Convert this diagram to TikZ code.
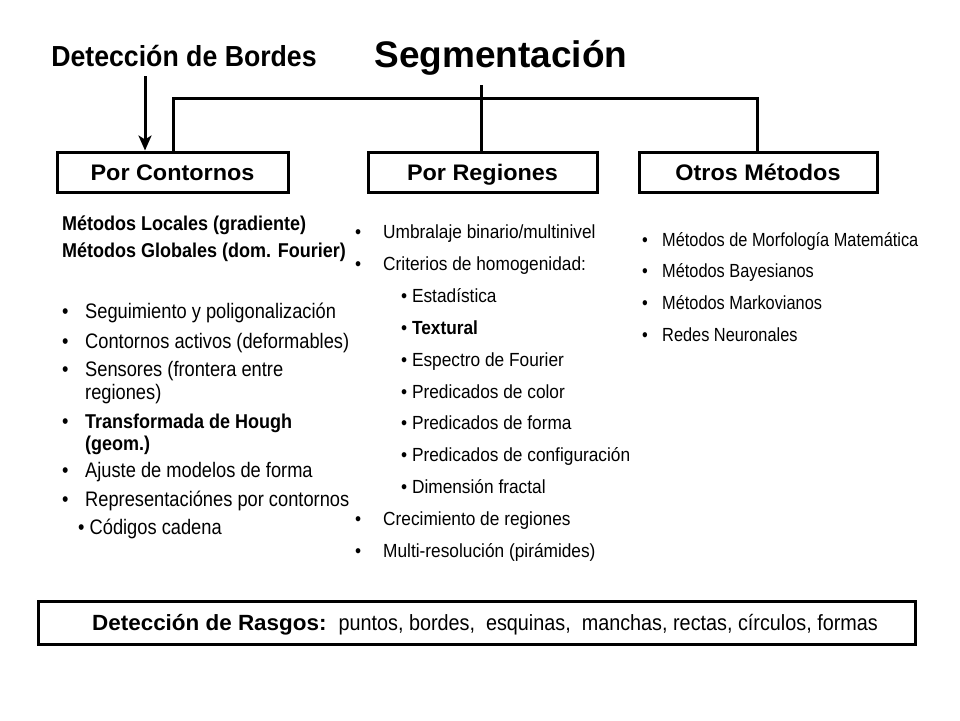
\documentclass[tikz,border=0pt]{standalone}
\usepackage{fontspec}
\setmainfont{Liberation Sans}
\newfontfamily\fTitle{Liberation Sans}
\newfontfamily\fDB[FakeStretch=0.92]{Liberation Sans}
\newfontfamily\fBox[FakeStretch=1.04]{Liberation Sans}
\newfontfamily\fLeftB[FakeStretch=0.9]{Liberation Sans}
\newfontfamily\fLeft[FakeStretch=0.87]{Liberation Sans}
\newfontfamily\fMid[FakeStretch=0.91]{Liberation Sans}
\newfontfamily\fRight[FakeStretch=0.86]{Liberation Sans}
\newfontfamily\fBot[FakeStretch=0.9]{Liberation Sans}
\newfontfamily\fBotB[FakeStretch=1.02]{Liberation Sans}
\usetikzlibrary{arrows.meta}
\tikzset{
  boxn/.style={draw, line width=3pt, inner sep=0pt, text height=16pt, text depth=0pt,
    font=\fBox\bfseries\fontsize{22.5pt}{26pt}\selectfont},
  conn/.style={line width=3pt},
  lhead/.style={anchor=base west, inner sep=0pt, font=\fLeftB\bfseries\fontsize{20pt}{24pt}\selectfont},
  ltxt/.style={anchor=base west, inner sep=0pt, font=\fLeft\fontsize{21pt}{25pt}\selectfont},
  mtxt/.style={anchor=base west, inner sep=0pt, font=\fMid\fontsize{19pt}{23pt}\selectfont},
  rtxt/.style={anchor=base west, inner sep=0pt, font=\fRight\fontsize{19pt}{23pt}\selectfont},
}
\begin{document}
\begin{tikzpicture}[x=1pt,y=-1pt]
\path[fill=white,use as bounding box] (0,0) rectangle (960,720);

% titles
\node[anchor=base, inner sep=0pt, font=\fDB\bfseries\fontsize{29pt}{33pt}\selectfont] (db) at (184,66) {Detección de Bordes};
\node[anchor=base, inner sep=0pt, font=\fTitle\bfseries\fontsize{37pt}{42pt}\selectfont] (seg) at (501,67) {Segmentación};

% boxes
\node[boxn, minimum width=231pt, minimum height=40pt] (pc) at (172.5,172) {Por Contornos};
\node[boxn, minimum width=229pt, minimum height=40pt] (pr) at (482.5,172) {Por Regiones};
\node[boxn, minimum width=238pt, minimum height=40pt] (om) at (758,172) {Otros Métodos};

% connectors
\coordinate (arrS) at (145,76);
\draw[conn, -{Stealth[length=15pt,width=13pt,inset=4pt]}] (arrS) -- (arrS |- pc.north);
\coordinate (bl) at (173,98);
\coordinate (br) at (757,98);
\draw[conn] (bl |- pc.north) -- (bl) -- (br) -- (br |- om.north);
\coordinate (segS) at (481,85);
\draw[conn] (segS) -- (segS |- pr.north);

% left column
\node[lhead] (h1) at (62,230) {Métodos Locales (gradiente)};
\node[lhead] (h2) at (62,257) {Métodos Globales (dom. Fourier)};
\node[ltxt] (lb1) at (62,318) {•};
\node[ltxt] (l1) at (85,318) {Seguimiento y poligonalización};
\node[ltxt] (lb2) at (62,348) {•};
\node[ltxt] (l2) at (85,348) {Contornos activos (deformables)};
\node[ltxt] (lb3) at (62,376) {•};
\node[ltxt] (l3) at (85,376) {Sensores (frontera entre};
\node[ltxt] (l3b) at (85,399) {regiones)};
\node[ltxt] (lb4) at (62,428) {•};
\node[ltxt, font=\fLeftB\bfseries\fontsize{20pt}{24pt}\selectfont] (l4) at (85,428) {Transformada de Hough};
\node[ltxt, font=\fLeftB\bfseries\fontsize{20pt}{24pt}\selectfont] (l4b) at (85,450) {(geom.)};
\node[ltxt] (lb5) at (62,477) {•};
\node[ltxt] (l5) at (85,477) {Ajuste de modelos de forma};
\node[ltxt] (lb6) at (62,506) {•};
\node[ltxt] (l6) at (85,506) {Representaciónes por contornos};
\node[ltxt] (l7) at (78,534) {• Códigos cadena};

% middle column
\node[mtxt] (mb1) at (355,238.5) {•};
\node[mtxt] (m1) at (383,238.5) {Umbralaje binario/multinivel};
\node[mtxt] (mb2) at (355,270.4) {•};
\node[mtxt] (m2) at (383,270.4) {Criterios de homogenidad:};
\node[mtxt] (m3) at (401,302.3) {• Estadística};
\node[mtxt] (m4) at (401,334.2) {• \textbf{Textural}};
\node[mtxt] (m5) at (401,366.1) {• Espectro de Fourier};
\node[mtxt] (m6) at (401,398) {• Predicados de color};
\node[mtxt] (m7) at (401,429.9) {• Predicados de forma};
\node[mtxt] (m8) at (401,461.8) {• Predicados de configuración};
\node[mtxt] (m9) at (401,493.7) {• Dimensión fractal};
\node[mtxt] (mb10) at (355,525.6) {•};
\node[mtxt] (m10) at (383,525.6) {Crecimiento de regiones};
\node[mtxt] (mb11) at (355,557.5) {•};
\node[mtxt] (m11) at (383,557.5) {Multi-resolución (pirámides)};

% right column
\node[rtxt] (rb1) at (642,246.5) {•};
\node[rtxt] (r1) at (662,246.5) {Métodos de Morfología Matemática};
\node[rtxt] (rb2) at (642,277.5) {•};
\node[rtxt] (r2) at (662,277.5) {Métodos Bayesianos};
\node[rtxt] (rb3) at (642,309.5) {•};
\node[rtxt] (r3) at (662,309.5) {Métodos Markovianos};
\node[rtxt] (rb4) at (642,341.5) {•};
\node[rtxt] (r4) at (662,341.5) {Redes Neuronales};

% bottom box
\node[draw, line width=3pt, inner sep=0pt, minimum width=877pt, minimum height=43pt,
  text height=16pt, text depth=0pt] (rasgos) at (476.5,622.5)
  {\hspace{17pt}{\fBotB\bfseries\fontsize{22pt}{26pt}\selectfont Detección de Rasgos:}\hspace{12pt}{\fBot\fontsize{22pt}{26pt}\selectfont puntos, bordes,\ \ esquinas,\ \ manchas, rectas, círculos, formas}};
\end{tikzpicture}
\end{document}
